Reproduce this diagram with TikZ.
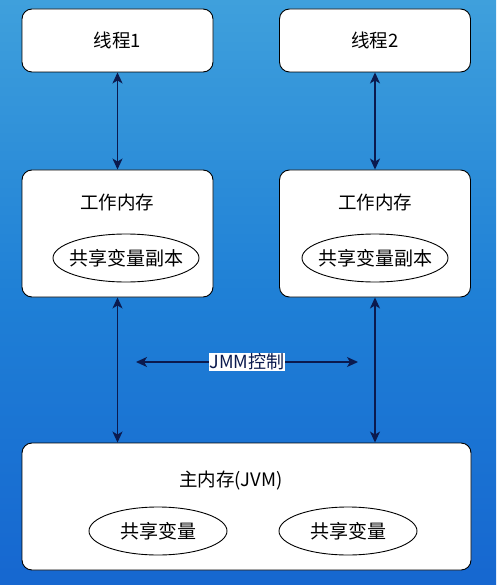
\documentclass[tikz,border=0pt]{standalone}
\usepackage{fontspec}
\setmainfont{Noto Sans CJK SC}
\usepackage{xcolor}
\usetikzlibrary{arrows.meta,positioning,shapes.geometric}
\definecolor{jmmtop}{HTML}{3FA0DC}
\definecolor{jmmmid}{HTML}{1F80D6}
\definecolor{jmmbottom}{HTML}{1667D0}
\definecolor{jmmarrow}{HTML}{0B1A4E}

\begin{document}
\begin{tikzpicture}[x=1pt, y=-1pt,
  box/.style={draw=black, fill=white, rounded corners=10pt, line width=0.9pt},
  blob/.style={ellipse, draw=black, line width=0.9pt, minimum height=48pt, inner xsep=-6pt, inner ysep=0pt, font=\fontsize{19}{22}\selectfont},
  caption/.style={font=\fontsize{18.5}{22}\selectfont},
  tag/.style={fill=white, inner sep=1pt, font=\fontsize{18}{21}\selectfont},
  link/.style={{Stealth[length=11pt,width=10pt,inset=3pt]}-{Stealth[length=11pt,width=10pt,inset=3pt]}, line width=1.4pt, jmmarrow}
]
% background
\fill[top color=jmmtop, bottom color=jmmbottom, middle color=jmmmid] (0,0) rectangle (496,585);
\useasboundingbox (0,0) rectangle (496,585);

% threads
\node[box, minimum width=191pt, minimum height=63pt, caption] (thread1) at (117.5,40.5) {线程1};
\node[box, minimum width=191pt, minimum height=63pt, caption] (thread2) at (375,40.5) {线程2};

% working memory
\node[box, minimum width=191pt, minimum height=127pt] (work1) at (117.5,233.5) {};
\node[box, minimum width=191pt, minimum height=127pt] (work2) at (375,233.5) {};
\node[caption] (worktext1) at (117,202) {工作内存};
\node[caption] (worktext2) at (375,202) {工作内存};
\node[blob, minimum width=146pt] (copy1) at (126,258) {共享变量副本};
\node[blob, minimum width=146pt] (copy2) at (375,258) {共享变量副本};

% main memory
\node[box, minimum width=449pt, minimum height=127pt] (main) at (246.5,506.5) {};
\node[caption] (maintext) at (231,481) {主内存(JVM)};
\node[blob, minimum width=138pt] (shared1) at (158,531) {共享变量};
\node[blob, minimum width=138pt] (shared2) at (348,531) {共享变量};

% connectors
\draw[link] (thread1.south) -- (work1.north);
\draw[link] (thread2.south) -- (work2.north);
\draw[link] (work1.south) -- (work1.south |- main.north);
\draw[link] (work2.south) -- (work2.south |- main.north);
\coordinate (jmmleft) at (136,362);
\coordinate (jmmright) at (358,362);
\draw[link] (jmmleft) -- node[tag] {JMM控制} (jmmright);
\end{tikzpicture}
\end{document}
